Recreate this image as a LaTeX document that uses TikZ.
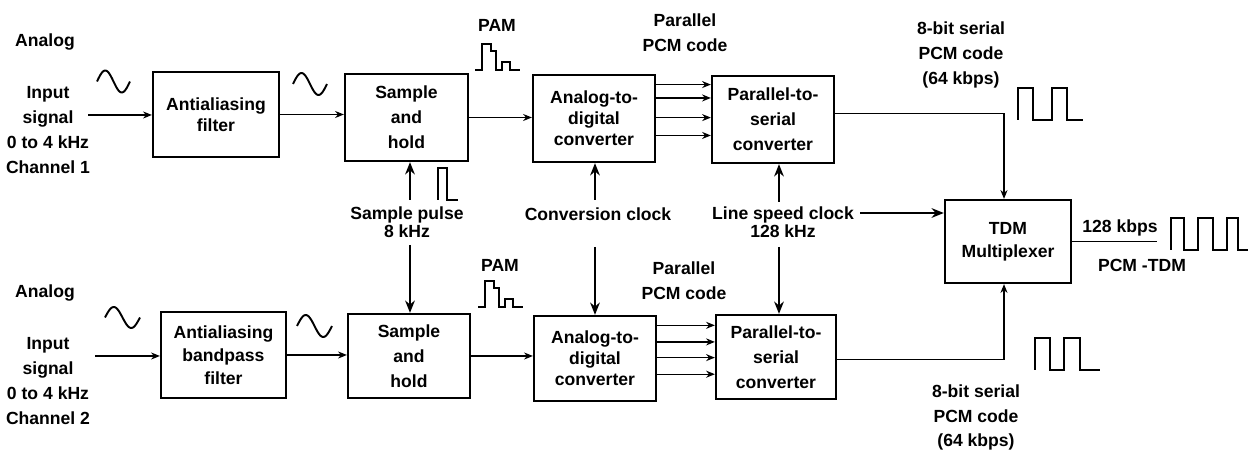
\documentclass[tikz,border=0pt]{standalone}
\usepackage{fontspec}
\setmainfont{Liberation Sans}
\usetikzlibrary{arrows.meta,calc}
\begin{document}
\begin{tikzpicture}[x=0.02cm,y=-0.02cm,
  every node/.style={font=\fontsize{10}{12}\selectfont\bfseries, align=center, inner sep=1pt},
  blk/.style n args={2}{draw, line width=1.3pt, minimum width=#1, minimum height=#2, inner sep=2pt},
  sp13/.style={font=\fontsize{10}{13}\selectfont\bfseries},
  sp14/.style={font=\fontsize{10}{14.2}\selectfont\bfseries},
  sp10/.style={font=\fontsize{10}{10.5}\selectfont\bfseries},
  sig/.style={line width=0.7pt, -{Stealth[length=5pt,width=4pt]}},
  clk/.style={line width=1.1pt, -{Stealth[length=7pt,width=5.5pt]}},
  wave/.style={line width=1.1pt, line join=miter}]
\useasboundingbox (0,0) rectangle (1249,455);

% ---------- blocks ----------
\node[blk={2.52cm}{1.70cm}] (aa1) at (216,114.5) {Antialiasing\\filter};
\node[blk={2.46cm}{1.74cm}, sp14] (sh1) at (406.5,117.5) {Sample\\and\\hold};
\node[blk={2.44cm}{1.74cm}] (adc1) at (594,118.5) {Analog-to-\\digital\\converter};
\node[blk={2.44cm}{1.74cm}, sp14] (ps1) at (773,119.5) {Parallel-to-\\serial\\converter};
\node[blk={2.52cm}{1.66cm}, sp13] (tdm) at (1008,241.5) {TDM\\Multiplexer};
\node[blk={2.50cm}{1.72cm}, sp13] (aa2) at (223.5,355) {Antialiasing\\bandpass\\filter};
\node[blk={2.44cm}{1.68cm}, sp14] (sh2) at (409,356) {Sample\\and\\hold};
\node[blk={2.44cm}{1.70cm}] (adc2) at (595,358.5) {Analog-to-\\digital\\converter};
\node[blk={2.40cm}{1.68cm}, sp14] (ps2) at (776,357) {Parallel-to-\\serial\\converter};

% ---------- labels ----------
\node (an1) at (45,42) {Analog};
\node[sp14] (in1) at (48,130) {Input\\signal\\0 to 4 kHz\\Channel 1};
\node (an2) at (45,293) {Analog};
\node[sp14] (in2) at (48,381) {Input\\signal\\0 to 4 kHz\\Channel 2};
\node (pam1) at (497,25) {PAM};
\node (pam2) at (500,265) {PAM};
\node[sp14] (pp1) at (685,32.5) {Parallel\\PCM code};
\node[sp14] (pp2) at (684,281) {Parallel\\PCM code};
\node[sp14] (ser1) at (961,55) {8-bit serial\\PCM code\\(64 kbps)};
\node[sp14] (ser2) at (976,417.5) {8-bit serial\\PCM code\\(64 kbps)};
\node[sp10] (spl) at (407,222.5) {Sample pulse\\8 kHz};
\node (ccl) at (598,214) {Conversion clock};
\node[sp10] (lsc) at (783,222.5) {Line speed clock\\128 kHz};
\node (r128) at (1120,228) {128 kbps};
\node (pcmtdm) at (1142,265) {PCM -TDM};

% ---------- signal path, channel 1 ----------
\coordinate (s1) at (88,115);
\draw[sig] (s1) -- (s1 -| aa1.west);
\draw[sig] (aa1.east) -- (aa1.east -| sh1.west);
\draw[sig] (sh1.east) -- (sh1.east -| adc1.west);
\foreach \f [count=\i] in {0.12,0.27,0.49,0.69}{
  \coordinate (pa\i) at ($(adc1.north east)!\f!(adc1.south east)$);
  \draw[sig] (pa\i) -- (pa\i -| ps1.west);
}
\coordinate (o1) at ($(ps1.north east)!0.43!(ps1.south east)$);
\coordinate (m1) at (1004,0);
\draw[sig] (o1) -- (o1 -| m1) -- (m1 |- tdm.north);

% ---------- signal path, channel 2 ----------
\coordinate (s2) at (95,356);
\draw[sig] (s2) -- (s2 -| aa2.west);
\draw[sig] (aa2.east) -- (aa2.east -| sh2.west);
\draw[sig] (sh2.east) -- (sh2.east -| adc2.west);
\foreach \f [count=\i] in {0.12,0.31,0.49,0.68}{
  \coordinate (pb\i) at ($(adc2.north east)!\f!(adc2.south east)$);
  \draw[sig] (pb\i) -- (pb\i -| ps2.west);
}
\coordinate (o2) at ($(ps2.north east)!0.53!(ps2.south east)$);
\draw[sig] (o2) -- (o2 -| m1) -- (m1 |- tdm.south);

% ---------- output ----------
\coordinate (tout) at (1157,241.5);
\draw[line width=0.9pt] (tdm.east) -- (tdm.east -| tout);

% ---------- clocks ----------
\coordinate (spu) at (410,200);
\coordinate (spd) at (410,245);
\draw[clk] (spu) -- (spu |- sh1.south);
\draw[clk] (spd) -- (spd |- sh2.north);
\coordinate (ccu) at (595,200);
\coordinate (ccd) at (595,247);
\draw[clk] (ccu) -- (ccu |- adc1.south);
\draw[clk] (ccd) -- (ccd |- adc2.north);
\coordinate (lsu) at (779,202);
\coordinate (lsd) at (779,247);
\coordinate (lsr) at (860,213);
\draw[clk] (lsu) -- (lsu |- ps1.south);
\draw[clk] (lsd) -- (lsd |- ps2.north);
\draw[clk] (lsr) -- (lsr -| tdm.west);

% ---------- waveforms ----------
\draw[wave] plot[domain=0:1,samples=40,smooth] ({97+33*\x},{81.5-11*sin(360*\x)});
\draw[wave] plot[domain=0:1,samples=40,smooth] ({293+34*\x},{84-11*sin(360*\x)});
\draw[wave] plot[domain=0:1,samples=40,smooth] ({105+35*\x},{317.5-10.5*sin(360*\x)});
\draw[wave] plot[domain=0:1,samples=40,smooth] ({297+35*\x},{326-11*sin(360*\x)});
% PAM
\draw[wave] (475,70) -- (482,70) -- (482,44) -- (491,44) -- (491,51) -- (496,51) -- (496,70)
  -- (502,70) -- (502,62) -- (510,62) -- (510,70) -- (520,70);
\draw[wave] (478,307) -- (485,307) -- (485,281) -- (494,281) -- (494,288) -- (499,288) -- (499,307)
  -- (505,307) -- (505,299) -- (513,299) -- (513,307) -- (523,307);
% sample pulse
\draw[wave] (438,200) -- (438,168) -- (447,168) -- (447,200) -- (458,200);
% serial PCM
\draw[wave] (1018,120) -- (1018,88) -- (1033,88) -- (1033,120) -- (1052,120) -- (1052,88)
  -- (1067,88) -- (1067,120) -- (1083,120);
\draw[wave] (1035,370) -- (1035,338) -- (1050,338) -- (1050,370) -- (1064,370) -- (1064,338)
  -- (1080,338) -- (1080,370) -- (1100,370);
% PCM-TDM
\draw[wave] (1171,250) -- (1171,218) -- (1184,218) -- (1184,250) -- (1198,250) -- (1198,218)
  -- (1213,218) -- (1213,250) -- (1227,250) -- (1227,218) -- (1238,218) -- (1238,250) -- (1248,250);
\end{tikzpicture}
\end{document}
